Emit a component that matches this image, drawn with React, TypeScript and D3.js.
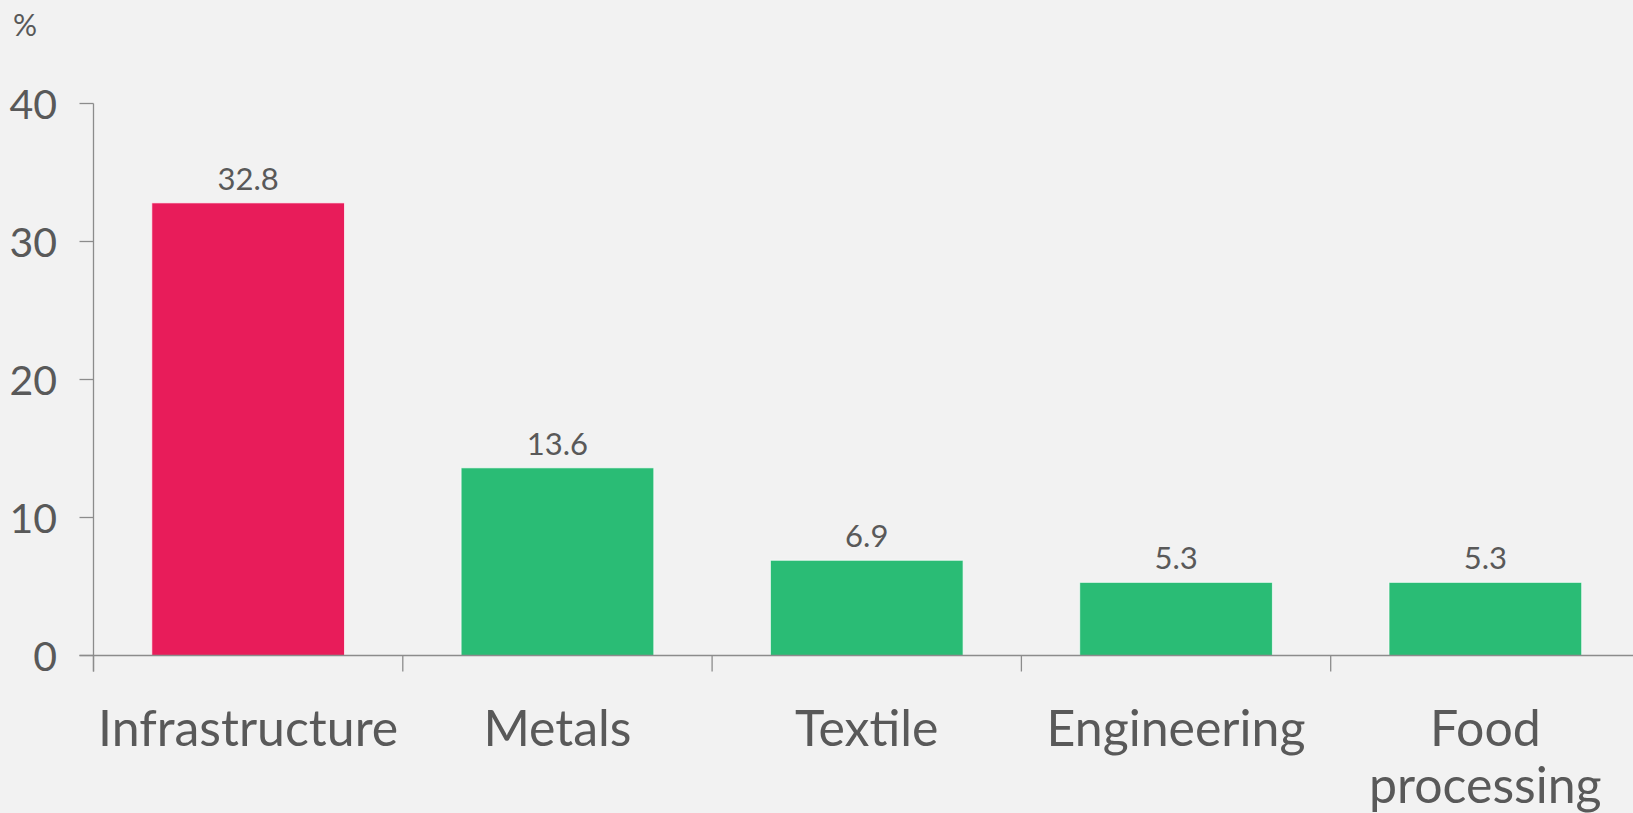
import React, { useEffect, useRef } from "react";
import * as d3 from "d3";

const categories: string[][] = [["Infrastructure"], ["Metals"], ["Textile"], ["Engineering"], ["Food", "processing"]];
const values: number[] = [32.8, 13.6, 6.9, 5.3, 5.3];
const valueLabels: string[] = ["32.8", "13.6", "6.9", "5.3", "5.3"];
const barColors: string[] = ["#e81c5a", "#2abc75", "#2abc75", "#2abc75", "#2abc75"];
const yTicks: number[] = [0, 10, 20, 30, 40];
const unitLabel = "%";

const W = 1633;
const H = 813;
const FONT = "Lato, 'Open Sans', sans-serif";
const TEXT = "#595959";
const AXIS = "#8c8c8c";

export default function App() {
  const ref = useRef<SVGSVGElement | null>(null);

  useEffect(() => {
    const svg = d3.select(ref.current);
    svg.selectAll("*").remove();

    const x0 = 93.5;
    const step = 309.3;
    const x = d3
      .scaleBand<number>()
      .domain(d3.range(values.length))
      .range([x0, x0 + step * values.length])
      .paddingInner(0.377)
      .paddingOuter(0.377 / 2);
    const y = d3.scaleLinear().domain([0, 40]).range([655.5, 103.5]);

    svg.append("rect").attr("width", W).attr("height", H).attr("fill", "#f2f2f2");

    const g = svg.append("g").attr("font-family", FONT);
    g.append("line")
      .attr("x1", x0).attr("x2", x0)
      .attr("y1", y(40)).attr("y2", y(0) + 16)
      .attr("stroke", AXIS).attr("stroke-width", 1.3);
    yTicks.forEach((t) => {
      g.append("line")
        .attr("x1", x0 - 14).attr("x2", x0)
        .attr("y1", y(t)).attr("y2", y(t))
        .attr("stroke", AXIS).attr("stroke-width", 1.3);
      g.append("text")
        .attr("x", 57).attr("y", y(t) + 15)
        .attr("text-anchor", "end")
        .attr("font-size", 41)
        .attr("fill", TEXT)
        .text(String(t));
    });

    g.append("text")
      .attr("x", 13).attr("y", 36)
      .attr("font-size", 30)
      .attr("fill", TEXT)
      .text(unitLabel);

    values.forEach((v, i) => {
      const bx = x(i)!;
      g.append("rect")
        .attr("x", bx)
        .attr("y", y(v))
        .attr("width", x.bandwidth())
        .attr("height", y(0) - y(v))
        .attr("fill", barColors[i])
        .attr("stroke", "#ffffff")
        .attr("stroke-opacity", 0.7)
        .attr("stroke-width", 1);
      g.append("text")
        .attr("x", bx + x.bandwidth() / 2)
        .attr("y", y(v) - 13)
        .attr("text-anchor", "middle")
        .attr("font-size", 31)
        .attr("fill", TEXT)
        .text(valueLabels[i]);
    });

    g.append("line")
      .attr("x1", x0 - 14).attr("x2", W)
      .attr("y1", y(0)).attr("y2", y(0))
      .attr("stroke", AXIS).attr("stroke-width", 1.3);
    for (let i = 0; i <= values.length; i++) {
      const tx = x0 + step * i;
      g.append("line")
        .attr("x1", tx).attr("x2", tx)
        .attr("y1", y(0)).attr("y2", y(0) + 16)
        .attr("stroke", AXIS).attr("stroke-width", 1.3);
    }
    categories.forEach((lines, i) => {
      const cx = x(i)! + x.bandwidth() / 2;
      const t = g.append("text")
        .attr("text-anchor", "middle")
        .attr("font-size", 50)
        .attr("fill", TEXT);
      lines.forEach((ln, j) => {
        t.append("tspan").attr("x", cx).attr("y", 746 + j * 57).text(ln);
      });
    });
  }, []);

  return (
    <svg
      ref={ref}
      width={W}
      height={H}
      style={{ position: "absolute", left: 0, top: 0, display: "block" }}
    />
  );
}
